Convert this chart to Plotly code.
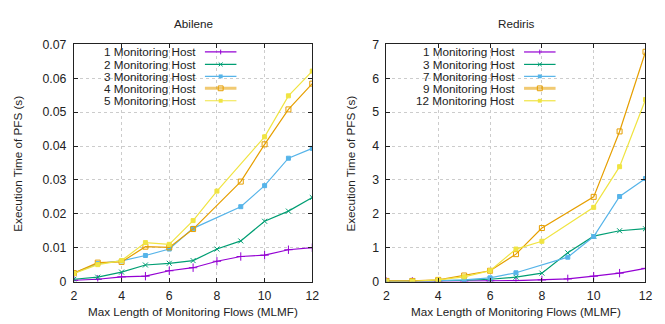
import plotly.graph_objects as go

x_vals = [2, 3, 4, 5, 6, 7, 8, 9, 10, 11, 12]

# Abilene (seconds)
abilene_names = ["1 Monitoring Host", "2 Monitoring Host", "3 Monitoring Host",
                 "4 Monitoring Host", "5 Monitoring Host"]
abilene_1 = [0.0004, 0.0007, 0.0014, 0.0016, 0.0032, 0.0041, 0.0060, 0.0074, 0.0078, 0.0094, 0.0100]
abilene_2 = [0.0007, 0.0013, 0.0028, 0.0049, 0.0054, 0.0062, 0.0096, 0.0120, 0.0178, 0.0208, 0.0248]
abilene_3 = [0.0025, 0.0053, 0.0061, 0.0077, 0.0096, 0.0157, None, 0.0221, 0.0283, 0.0364, 0.0393]
abilene_4 = [0.0025, 0.0056, 0.0058, 0.0103, 0.0101, 0.0155, None, 0.0295, 0.0405, 0.0508, 0.0584]
abilene_5 = [0.0024, 0.0050, 0.0062, 0.0115, 0.0110, 0.0180, 0.0267, None, 0.0427, 0.0548, 0.0621]

# Rediris (seconds)
rediris_names = ["1 Monitoring Host", "3 Monitoring Host", "7 Monitoring Host",
                 "9 Monitoring Host", "12 Monitoring Host"]
rediris_1 = [0.005, 0.005, 0.01, 0.01, 0.02, 0.03, 0.05, 0.08, 0.16, 0.25, 0.39]
rediris_2 = [0.01, 0.01, 0.02, 0.04, 0.07, 0.13, 0.25, 0.85, 1.34, 1.50, 1.56]
rediris_3 = [0.01, 0.01, 0.03, 0.05, 0.11, 0.26, None, 0.72, 1.33, 2.51, 3.04]
rediris_4 = [0.02, 0.02, 0.05, 0.18, 0.32, 0.81, 1.58, None, 2.50, 4.43, 6.78]
rediris_5 = [0.01, 0.01, 0.05, 0.14, 0.32, 0.96, 1.19, None, 2.19, 3.39, 5.37]

x_ticks = [2, 4, 6, 8, 10, 12]
abilene_yticks = [0, 0.01, 0.02, 0.03, 0.04, 0.05, 0.06, 0.07]
abilene_ytext = ["0", "0.01", "0.02", "0.03", "0.04", "0.05", "0.06", "0.07"]
rediris_yticks = [0, 1, 2, 3, 4, 5, 6, 7]

x_title = "Max Length of Monitoring Flows (MLMF)"
y_title = "Execution Time of PFS (s)"

colors = ["#9400d3", "#009e73", "#56b4e9", "#e69f00", "#f0e442"]
symbols = ["cross-thin", "x-thin", "square", "square-open", "square"]
msizes = [6, 5, 4, 5, 4]

FONT = "Liberation Sans, Arial, sans-serif"
TXT = "#222222"

fig = go.Figure()

def add_series(series, names, xa, ya):
    for i, (ys, nm) in enumerate(zip(series, names)):
        fig.add_trace(go.Scatter(
            x=x_vals, y=ys, name=nm, mode="lines+markers", connectgaps=True,
            xaxis=xa, yaxis=ya, showlegend=False,
            line=dict(color=colors[i], width=1.2),
            marker=dict(symbol=symbols[i], size=msizes[i], color=colors[i],
                        line=dict(color=colors[i], width=1)),
        ))

add_series([abilene_1, abilene_2, abilene_3, abilene_4, abilene_5], abilene_names, "x", "y")
add_series([rediris_1, rediris_2, rediris_3, rediris_4, rediris_5], rediris_names, "x2", "y2")

W, H = 665, 324
def px_x(p):
    return p / W
def px_y(p):
    return 1 - p / H

dom_top = px_y(39)
dom_bot = px_y(287)

axis_common = dict(
    showline=True, linecolor="#222222", linewidth=1, mirror="ticks",
    ticks="inside", ticklen=4, tickcolor="#222222",
    showgrid=True, gridcolor="#cccccc", griddash="dot", gridwidth=1,
    zeroline=False, tickfont=dict(family=FONT, size=12.3, color=TXT),
)

fig.update_layout(
    width=W, height=H, margin=dict(l=0, r=0, t=0, b=0),
    paper_bgcolor="white", plot_bgcolor="white",
    font=dict(family=FONT, size=12, color=TXT),
    xaxis=dict(domain=[px_x(72), px_x(314)], range=[2, 12], tickvals=x_ticks,
               ticklabelstandoff=3, anchor="y", **axis_common),
    yaxis=dict(domain=[dom_bot, dom_top], range=[0, 0.07],
               tickvals=abilene_yticks, ticktext=abilene_ytext,
               ticklabelstandoff=4, anchor="x", **axis_common),
    xaxis2=dict(domain=[px_x(389.3), px_x(652.3)], range=[2, 12], tickvals=x_ticks,
                ticklabelstandoff=3, anchor="y2", **axis_common),
    yaxis2=dict(domain=[dom_bot, dom_top], range=[0, 7], tickvals=rediris_yticks,
                ticklabelstandoff=4, anchor="x2", **axis_common),
    showlegend=False,
)

def ann(text, x, y, size=11.7, angle=0, yanchor="middle"):
    fig.add_annotation(text=text, xref="paper", yref="paper", x=px_x(x), y=px_y(y),
                       showarrow=False, font=dict(size=size, color=TXT, family=FONT),
                       xanchor="center", yanchor=yanchor, textangle=angle, borderpad=0)

# Titles
ann("Abilene", 193, 17)
ann("Rediris", 521, 17)
ann(x_title, 193, 318)
ann(x_title, 521, 318)
ann(y_title, 15, 164, angle=-90)
ann(y_title, 353, 164, angle=-90)

# gnuplot-style key (text right, sample on right)
rows = [47, 60, 72.5, 85, 98]
def draw_key(names, text_right, l0, l1):
    for i, nm in enumerate(names):
        yy = px_y(rows[i])
        fig.add_annotation(text=nm, xref="paper", yref="paper", x=px_x(text_right), y=yy,
                           showarrow=False, xanchor="right", yanchor="middle",
                           font=dict(size=11.7, color=TXT, family=FONT))
        lw = 1.2
        op = 1.0
        if i == 3:
            lw = 3
            op = 0.55
        fig.add_shape(type="line", xref="paper", yref="paper",
                      x0=px_x(l0), x1=px_x(l1), y0=yy, y1=yy,
                      line=dict(color=colors[i], width=lw), opacity=op)
        cx = (l0 + l1) / 2
        cy = rows[i]
        if i == 0:
            fig.add_shape(type="line", xref="paper", yref="paper",
                          x0=px_x(cx), x1=px_x(cx), y0=px_y(cy - 2.5), y1=px_y(cy + 2.5),
                          line=dict(color=colors[i], width=1))
        elif i == 1:
            fig.add_shape(type="line", xref="paper", yref="paper",
                          x0=px_x(cx - 2), x1=px_x(cx + 2), y0=px_y(cy - 2), y1=px_y(cy + 2),
                          line=dict(color=colors[i], width=1))
            fig.add_shape(type="line", xref="paper", yref="paper",
                          x0=px_x(cx - 2), x1=px_x(cx + 2), y0=px_y(cy + 2), y1=px_y(cy - 2),
                          line=dict(color=colors[i], width=1))
        elif i == 3:
            fig.add_shape(type="rect", xref="paper", yref="paper",
                          x0=px_x(cx - 2.5), x1=px_x(cx + 2.5), y0=px_y(cy - 2.5), y1=px_y(cy + 2.5),
                          line=dict(color=colors[i], width=1), fillcolor="rgba(0,0,0,0)")
        else:
            fig.add_shape(type="rect", xref="paper", yref="paper",
                          x0=px_x(cx - 2), x1=px_x(cx + 2), y0=px_y(cy - 2), y1=px_y(cy + 2),
                          line=dict(color=colors[i], width=0), fillcolor=colors[i])

draw_key(abilene_names, 198, 205, 237)
draw_key(rediris_names, 522, 529, 561)

fig.write_html("out.html")
